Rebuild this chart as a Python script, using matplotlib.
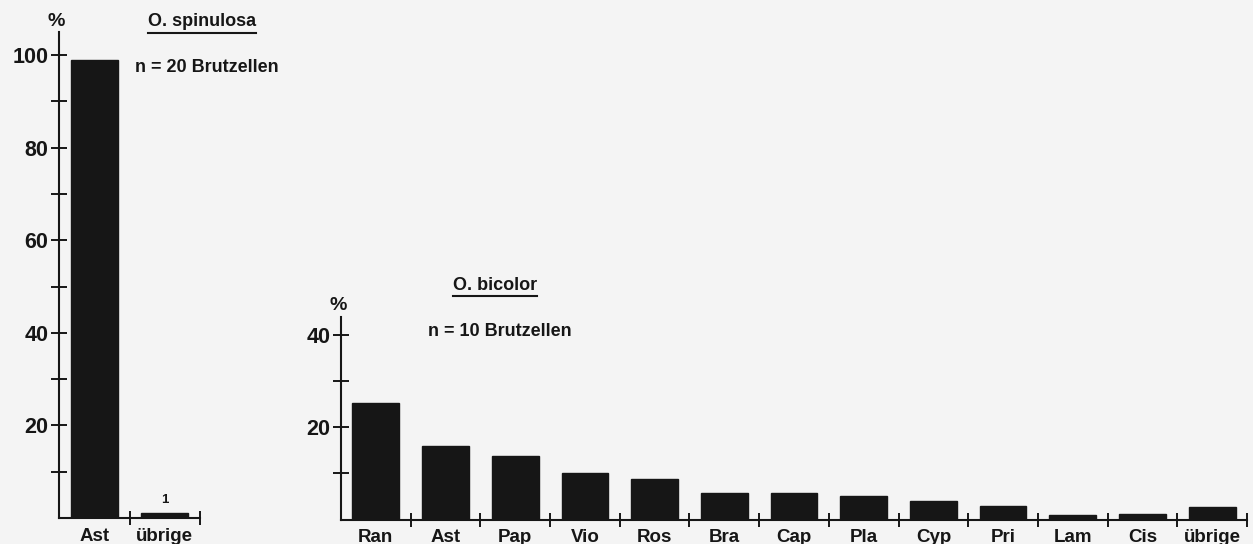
import matplotlib
matplotlib.use("Agg")
import matplotlib.pyplot as plt
from matplotlib.lines import Line2D
import numpy as np

# Data
left_categories = ["Ast", "übrige"]
left_values = [99, 1]
left_title = "O. spinulosa"
left_n = "n = 20 Brutzellen"

right_categories = ["Ran", "Ast", "Pap", "Vio", "Ros", "Bra", "Cap", "Pla",
                    "Cyp", "Pri", "Lam", "Cis", "übrige"]
right_values = [25.3, 16.0, 13.7, 10.2, 8.8, 5.8, 5.8, 5.2, 4.0, 3.0, 1.0, 1.2, 2.8]
right_title = "O. bicolor"
right_n = "n = 10 Brutzellen"

FONT = "Liberation Sans"
BG = "#f4f4f4"
INK = "#161616"

plt.rcParams['font.family'] = [FONT, 'DejaVu Sans']

W, H = 1253, 544
fig = plt.figure(figsize=(W / 100, H / 100), dpi=100, facecolor=BG)


def px_axes(x0, x1, ybase, ytop):
    return fig.add_axes([x0 / W, (H - ybase) / H, (x1 - x0) / W, (ybase - ytop) / H])


def style(ax, cats, vals, ymax, major, minor):
    x = np.arange(len(cats))
    ax.set_facecolor("none")
    ax.bar(x, vals, width=0.67, color=INK, edgecolor=INK, zorder=3)
    ax.set_xlim(-0.5, len(cats) - 0.5)
    ax.set_ylim(0, ymax)
    for s in ["top", "right"]:
        ax.spines[s].set_visible(False)
    for s in ["left", "bottom"]:
        ax.spines[s].set_linewidth(1.5)
        ax.spines[s].set_color(INK)
    ax.set_yticks(major)
    ax.set_yticklabels([str(v) for v in major], fontsize=15.5, fontweight="bold", color=INK)
    ax.set_yticks(minor, minor=True)
    ax.tick_params(axis="y", which="both", direction="inout", length=11, width=1.4,
                   color=INK, pad=2)
    # x: ticks at category boundaries, labels at centers
    ax.set_xticks(np.arange(len(cats)) + 0.5)
    ax.set_xticklabels([])
    ax.set_xticks(x, minor=True)
    ax.set_xticklabels(cats, minor=True, fontsize=13.5, fontweight="bold", color=INK)
    ax.tick_params(axis="x", which="major", direction="inout", length=10, width=1.4, color=INK)
    ax.tick_params(axis="x", which="minor", length=0, pad=7)


def label_px(xpx, ypx, s, size=13, ha="left"):
    return fig.text(xpx / W, 1 - ypx / H, s, ha=ha, va="center", fontsize=size,
                    fontweight="bold", color=INK)


# Left panel
axL = px_axes(59, 200, 518, 32)
style(axL, left_categories, left_values, 105, [20, 40, 60, 80, 100], [10, 30, 50, 70, 90])
axL.text(1, left_values[1] + 1.5, "1", ha="center", va="bottom", fontsize=9.5,
         fontweight="bold", color=INK)

# Right panel
axR = px_axes(341, 1247, 519.5, 317)
style(axR, right_categories, right_values, 44, [20, 40], [10, 30])


def underlined(xpx, ypx, s, size=13):
    t = label_px(xpx, ypx, s, size)
    fig.canvas.draw()
    bb = t.get_window_extent()
    yline = bb.y0 - 2
    fig.add_artist(Line2D([bb.x0 / W, bb.x1 / W], [yline / H, yline / H],
                          transform=fig.transFigure, color=INK, lw=1.5))
    return t


label_px(56, 22, "%", 14, ha="center")
label_px(338, 305, "%", 14, ha="center")
underlined(148, 22, left_title)
label_px(135, 67, left_n)
underlined(453, 285, right_title)
label_px(428, 332, right_n)

fig.savefig("out.png", dpi=100, facecolor=BG)
